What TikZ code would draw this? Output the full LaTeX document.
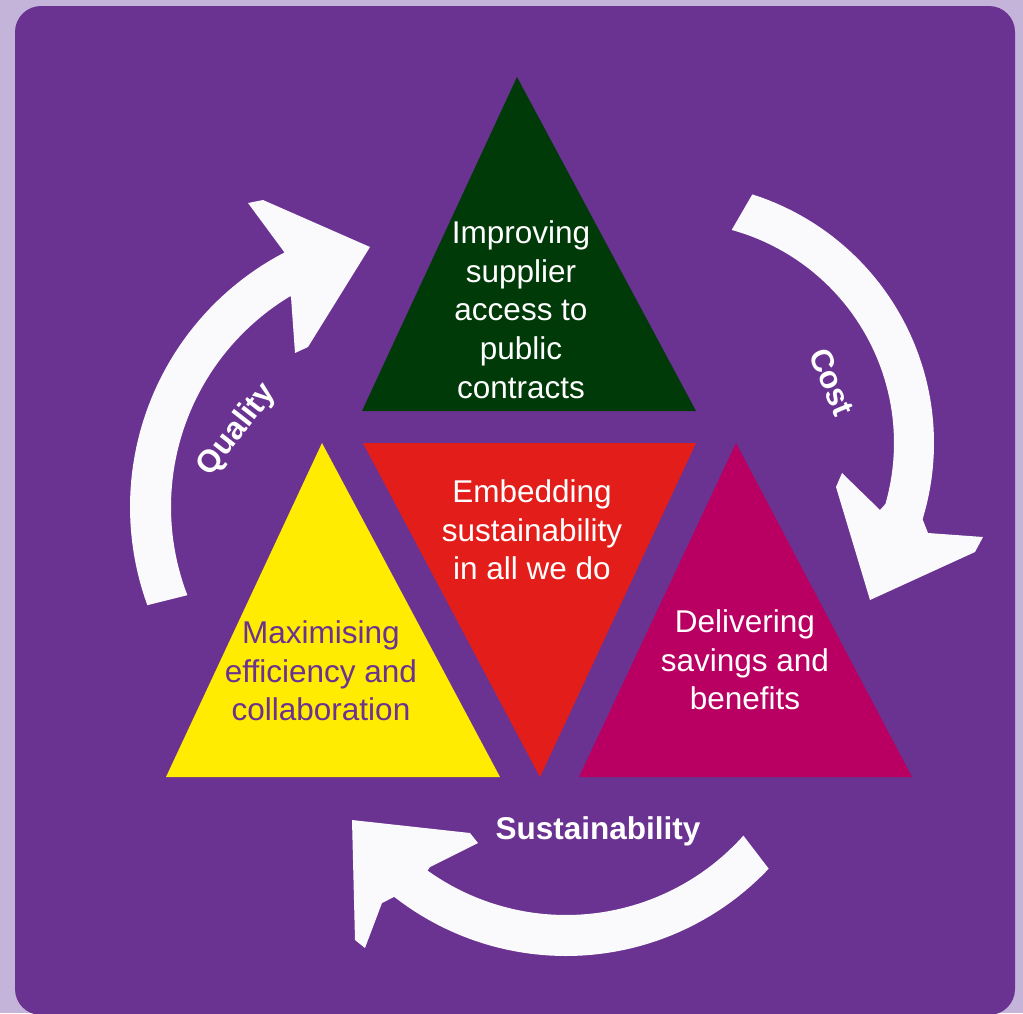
\documentclass[tikz,border=0pt]{standalone}
\usepackage{fontspec}
\setmainfont{Liberation Sans}
\definecolor{bglav}{RGB}{197,180,218}
\definecolor{purp}{RGB}{106,50,145}
\definecolor{tgreen}{RGB}{0,58,8}
\definecolor{tred}{RGB}{227,30,26}
\definecolor{tyellow}{RGB}{255,236,0}
\definecolor{tmag}{RGB}{185,0,98}
\definecolor{arrw}{RGB}{250,250,252}
\begin{document}
\begin{tikzpicture}[x=1pt,y=-1pt,
  lbl/.style={align=center, font=\fontsize{31.5}{38.7}\selectfont, text=white, inner sep=0pt},
  albl/.style={font=\fontsize{31.5}{38}\selectfont\bfseries, text=white, inner sep=0pt},
  arrowshape/.style={fill=arrw}]
\fill[bglav] (0,0) rectangle (1023,1013);
\useasboundingbox (0,0) rectangle (1023,1013);
\fill[purp, rounded corners=26pt] (15,6) rectangle (1015,1015);
% triangles
\fill[tgreen] (517,77) -- (696,411) -- (362,411) -- cycle;
\fill[tred] (363,443) -- (696,443) -- (540,777) -- cycle;
\fill[tyellow] (322,443) -- (500,777) -- (166,777) -- cycle;
\fill[tmag] (736,443) -- (912,777) -- (579,777) -- cycle;
% Quality arrow
\fill[arrowshape] plot[domain=160:242.5, samples=50] ({417+287*cos(\x)},{507+287*sin(\x)})
  -- (248,203) -- (263,200) -- (370,247) -- (308,347) -- (295,353) -- (291,297)
  -- plot[domain=239:159, samples=50] ({417+246*cos(\x)},{507+246*sin(\x)}) -- cycle;
% Cost arrow
\fill[arrowshape] plot[domain=-72.3:17, samples=50] ({673+261*cos(\x)},{443+261*sin(\x)})
  -- (928,533) -- (983,537) -- (975,552) -- (870,600) -- (836,487) -- (842,473) -- (880,510)
  -- plot[domain=16:-74.6, samples=50] ({673+221*cos(\x)},{443+221*sin(\x)}) -- cycle;
% Sustainability arrow
\fill[arrowshape] plot[domain=43.4:128, samples=50] ({566+279*cos(\x)},{677+279*sin(\x)})
  -- (382,903) -- (365,948) -- (355,940) -- (352,820) -- (470,833) -- (478,843) -- (430,867)
  -- plot[domain=125.6:41.8, samples=50] ({566+238*cos(\x)},{677+238*sin(\x)}) -- cycle;
% texts
\node[lbl] (green) at (521,309.5) {Improving\\supplier\\access to\\public\\contracts};
\node[lbl] (red) at (532,530) {Embedding\\sustainability\\in all we do};
\node[lbl, text=purp] (yellow) at (321,671) {Maximising\\efficiency and\\collaboration};
\node[lbl] (mag) at (745,660) {Delivering\\savings and\\benefits};
\node[albl, rotate=52] (q) at (237,430) {Quality};
\node[albl, rotate=-67] (c) at (832,382) {Cost};
\node[albl] (s) at (598,831) {Sustainability};
\end{tikzpicture}
\end{document}
